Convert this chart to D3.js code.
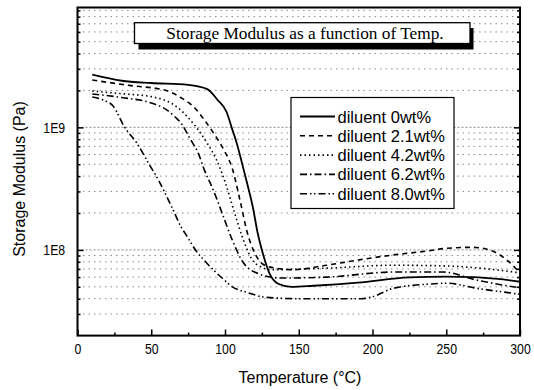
<!DOCTYPE html>
<html>
<head>
<meta charset="utf-8">
<script src="https://cdn.jsdelivr.net/npm/d3@7"></script>
<style>
  html, body { margin: 0; padding: 0; background: #fff; }
  svg { display: block; }
</style>
</head>
<body>
<svg id="chart" width="534" height="390"></svg>
<script>
// ---------- data ----------
const chartTitle = "Storage Modulus as a function of Temp.";
const xLabel = "Temperature (\u00B0C)";
const yLabel = "Storage Modulus (Pa)";
const seriesNames = ["diluent 0wt%", "diluent 2.1wt%", "diluent 4.2wt%", "diluent 6.2wt%", "diluent 8.0wt%"];
const xTicks = [0, 50, 100, 150, 200, 250, 300];
const xMinorTicks = [25, 75, 125, 175, 225, 275];
const yTicks = [1e8, 1e9];
const yTickLabels = ["1E8", "1E9"];

const temp0 = [10, 30, 50, 75, 88, 95, 101, 104.5, 108, 111, 115, 119, 122, 125, 130, 136, 145, 160, 190, 225, 250, 268, 285, 300];
const mod0  = [2.69e9, 2.4e9, 2.3e9, 2.22e9, 2.05e9, 1.67e9, 1.34e9, 1.0e9, 7.4e8, 5.4e8, 3.5e8, 2.2e8, 1.4e8, 1.0e8, 6.5e7, 5.3e7, 5.0e7, 5.1e7, 5.4e7, 5.97e7, 6.05e7, 6.0e7, 5.8e7, 5.5e7];

const temp21 = [10, 35, 60, 70, 80, 86, 93, 100, 105, 110, 115, 120, 126, 132, 146, 169, 191, 214, 237, 250, 268, 282, 291, 300];
const mod21  = [2.43e9, 2.2e9, 2.0e9, 1.75e9, 1.42e9, 1.15e9, 8.7e8, 6.3e8, 4.6e8, 2.6e8, 1.4e8, 9.5e7, 7.6e7, 7.2e7, 6.9e7, 7.5e7, 8.3e7, 9.1e7, 9.8e7, 1.03e8, 1.05e8, 9.7e7, 8.3e7, 6.5e7];

const temp42 = [10, 30, 50, 60, 68, 75, 82, 88, 94, 100, 106, 112, 118, 125, 131, 169, 214, 250, 273, 300];
const mod42  = [1.98e9, 1.88e9, 1.78e9, 1.65e9, 1.45e9, 1.2e9, 9.5e8, 7.4e8, 5.5e8, 3.6e8, 2.1e8, 1.25e8, 8.5e7, 7.2e7, 6.9e7, 7.1e7, 7.5e7, 7.4e7, 7.1e7, 6.5e7];

const temp62 = [10, 30, 50, 60, 66, 71, 76, 82, 86, 92, 98, 105, 112, 120, 137, 169, 214, 248, 270, 300];
const mod62  = [1.87e9, 1.75e9, 1.58e9, 1.4e9, 1.22e9, 1.05e9, 8.2e8, 6.1e8, 4.5e8, 3.1e8, 2.0e8, 1.2e8, 8.0e7, 6.6e7, 5.9e7, 6.0e7, 6.6e7, 6.6e7, 5.7e7, 4.9e7];

const temp80 = [10, 18, 24, 32, 40, 49, 55, 60, 65, 69.5, 75, 80, 86, 92, 98, 105, 115, 128, 150, 192, 200, 214, 237, 250, 271, 300];
const mod80  = [1.77e9, 1.66e9, 1.5e9, 1.0e9, 7.5e8, 4.9e8, 3.7e8, 2.8e8, 2.1e8, 1.6e8, 1.25e8, 1.0e8, 8.2e7, 6.9e7, 5.9e7, 5.0e7, 4.5e7, 4.1e7, 4.0e7, 4.0e7, 4.15e7, 4.86e7, 5.25e7, 5.35e7, 4.86e7, 4.35e7];

const seriesTemps = [temp0, temp21, temp42, temp62, temp80];
const seriesMods = [mod0, mod21, mod42, mod62, mod80];
const dashes = [null, "5,4", "1.5,3", "7,3,1.5,3", "7,3,1.5,2.5,1.5,3"];

// ---------- layout ----------
const L = 77.5, R = 520, T = 7.5, B = 335.6;
const svg = d3.select("#chart");
const x = d3.scaleLinear().domain([0, 300]).range([L, R]);
const y = d3.scaleLog().domain([2e7, 9.5e9]).range([B, T]);

// gridline / minor values
const minorVals = [];
for (let e = 7; e <= 9; e++) for (let m = 1; m <= 9; m++) {
  const v = m * Math.pow(10, e);
  if (v > 2.05e7 && v < 9.4e9) minorVals.push(v);
}

// horizontal dotted grid
svg.append("g").selectAll("line").data(minorVals).join("line")
  .attr("x1", L).attr("x2", R)
  .attr("y1", d => y(d)).attr("y2", d => y(d))
  .attr("stroke", "#8a8a8a").attr("stroke-width", 1)
  .attr("stroke-dasharray", d => (yTicks.includes(d) ? "2,2" : "1.5,4"));

// title box with shadow
svg.append("rect").attr("x", 138.5).attr("y", 28).attr("width", 335).attr("height", 21.5).attr("fill", "#000");
svg.append("rect").attr("x", 134.5).attr("y", 22.7).attr("width", 335.5).attr("height", 20.8)
  .attr("fill", "#fff").attr("stroke", "#000").attr("stroke-width", 1.3);
svg.append("text").attr("x", 305).attr("y", 38.6).attr("text-anchor", "middle")
  .attr("font-family", "'Liberation Serif', 'Times New Roman', serif").attr("font-size", 17.3)
  .text(chartTitle);

// series lines
const line = d3.line().x(d => x(d[0])).y(d => y(d[1])).curve(d3.curveMonotoneX);
seriesNames.forEach((name, i) => {
  const pts = seriesTemps[i].map((t, j) => [t, seriesMods[i][j]]);
  svg.append("path").datum(pts).attr("d", line)
    .attr("fill", "none").attr("stroke", "#000")
    .attr("stroke-width", i === 0 ? 1.8 : 1.6)
    .attr("stroke-dasharray", dashes[i]);
});

// legend
const lg = svg.append("g");
lg.append("rect").attr("x", 291).attr("y", 97.5).attr("width", 163).attr("height", 111)
  .attr("fill", "#fff").attr("stroke", "#000").attr("stroke-width", 1.2);
seriesNames.forEach((name, i) => {
  const cy = 116.5 + i * 19.3;
  lg.append("line").attr("x1", 300).attr("x2", 335).attr("y1", cy).attr("y2", cy)
    .attr("stroke", "#000").attr("stroke-width", i === 0 ? 1.8 : 1.6)
    .attr("stroke-dasharray", dashes[i]);
  lg.append("text").attr("x", 337.5).attr("y", cy + 6)
    .attr("font-family", "'Liberation Sans', Arial, sans-serif").attr("font-size", 16.5)
    .text(name);
});

// axes
const fontSans = "'Liberation Sans', Arial, sans-serif";
const xAxis = svg.append("g").attr("transform", `translate(0,${B})`)
  .call(d3.axisBottom(x).tickValues(xTicks).tickSizeInner(-6).tickSizeOuter(0).tickPadding(8));
xAxis.select(".domain").remove();
xAxis.selectAll(".tick line").attr("stroke", "#000").attr("stroke-width", 1.5);
xAxis.selectAll("text").attr("font-family", fontSans).attr("font-size", 15).attr("fill", "#000")
  .attr("transform", "scale(0.82,1)");

const xAxisMinor = svg.append("g").attr("transform", `translate(0,${B})`)
  .call(d3.axisBottom(x).tickValues(xMinorTicks).tickSizeInner(-3).tickSizeOuter(0).tickFormat(""));
xAxisMinor.select(".domain").remove();
xAxisMinor.selectAll(".tick line").attr("stroke", "#000").attr("stroke-width", 1.5);

const yAxis = svg.append("g").attr("transform", `translate(${L},0)`)
  .call(d3.axisLeft(y).tickValues(yTicks).tickFormat((d, i) => yTickLabels[i]).tickSizeInner(-6).tickSizeOuter(0).tickPadding(9));
yAxis.select(".domain").remove();
yAxis.selectAll(".tick line").attr("stroke", "#000").attr("stroke-width", 1.5);
yAxis.selectAll("text").attr("font-family", fontSans).attr("font-size", 15).attr("fill", "#000")
  .attr("transform", "scale(0.82,1) translate(-6,0)");

const yAxisMinor = svg.append("g").attr("transform", `translate(${L},0)`)
  .call(d3.axisLeft(y).tickValues(minorVals.filter(v => !yTicks.includes(v))).tickSizeInner(-3).tickSizeOuter(0).tickFormat(""));
yAxisMinor.select(".domain").remove();
yAxisMinor.selectAll(".tick line").attr("stroke", "#000").attr("stroke-width", 1.5);

const yAxisR = svg.append("g").attr("transform", `translate(${R},0)`)
  .call(d3.axisRight(y).tickValues(yTicks).tickSizeInner(-6).tickSizeOuter(0).tickFormat(""));
yAxisR.select(".domain").remove();
yAxisR.selectAll(".tick line").attr("stroke", "#000").attr("stroke-width", 1.5);
const yAxisRMinor = svg.append("g").attr("transform", `translate(${R},0)`)
  .call(d3.axisRight(y).tickValues(minorVals.filter(v => !yTicks.includes(v))).tickSizeInner(-3).tickSizeOuter(0).tickFormat(""));
yAxisRMinor.select(".domain").remove();
yAxisRMinor.selectAll(".tick line").attr("stroke", "#000").attr("stroke-width", 1.5);

// frame
svg.append("rect").attr("x", L).attr("y", T).attr("width", R - L).attr("height", B - T)
  .attr("fill", "none").attr("stroke", "#000").attr("stroke-width", 2);

// axis titles
svg.append("text").attr("x", 300).attr("y", 383).attr("text-anchor", "middle")
  .attr("font-family", fontSans).attr("font-size", 16).text(xLabel);
svg.append("text").attr("transform", "translate(25,179) rotate(-90)").attr("text-anchor", "middle")
  .attr("font-family", fontSans).attr("font-size", 16).text(yLabel);
</script>
</body>
</html>
